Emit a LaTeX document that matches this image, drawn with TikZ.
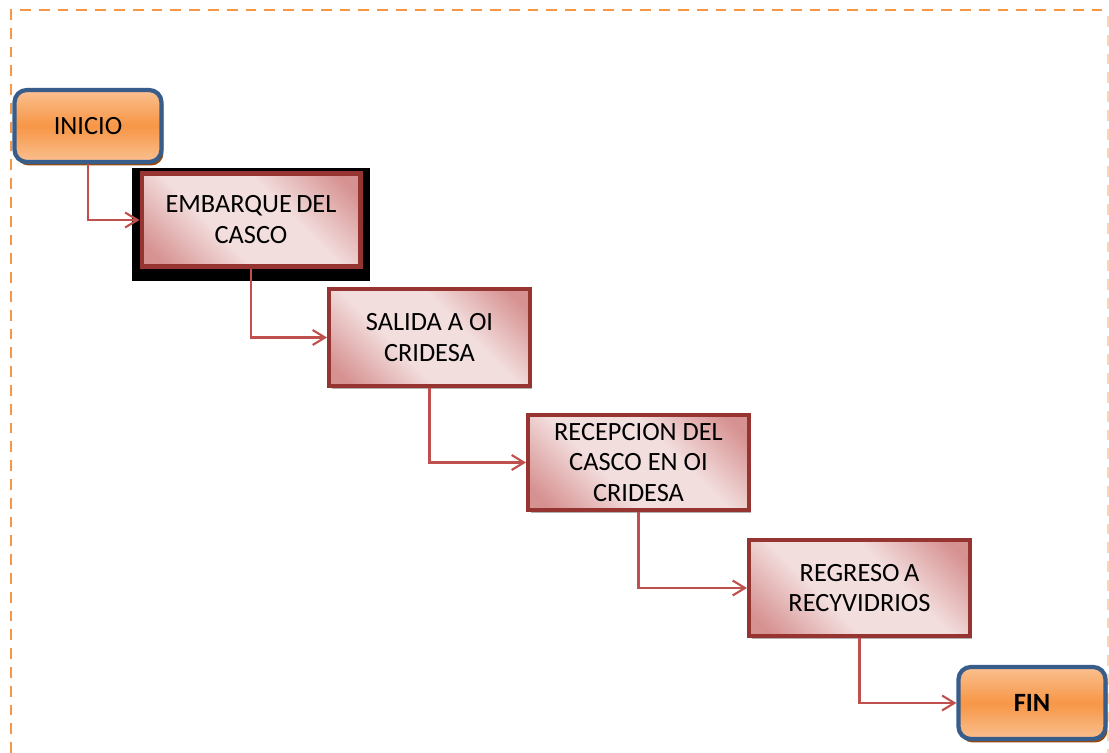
\documentclass[tikz,border=0pt]{standalone}
\usepackage{fontspec}
\setmainfont{Carlito}
\usetikzlibrary{arrows.meta}
\usetikzlibrary{shadows}
\definecolor{bordeorange}{RGB}{247,150,70}
\definecolor{naranja}{RGB}{247,150,70}
\definecolor{naranjaclaro}{RGB}{250,192,144}
\definecolor{azulborde}{RGB}{56,93,138}
\definecolor{sombracafe}{RGB}{152,72,6}
\definecolor{rojoborde}{RGB}{150,52,50}
\definecolor{rosaoscuro}{RGB}{214,146,145}
\definecolor{rosaclaro}{RGB}{243,222,222}
\definecolor{flecha}{RGB}{192,80,77}
\pgfdeclareverticalshading{rosado}{100bp}{color(0bp)=(rosaoscuro); color(20bp)=(rosaoscuro);
    color(40bp)=(rosaclaro); color(60bp)=(rosaclaro); color(80bp)=(rosaoscuro); color(100bp)=(rosaoscuro)}
\begin{document}
\begin{tikzpicture}[x=0.02cm,y=-0.02cm,
    >={Straight Barb[length=7pt,width=8.5pt,line width=1.2pt]},
    terminal/.style={draw=azulborde,line width=2.4pt,rounded corners=7pt,
        top color=naranjaclaro,bottom color=naranjaclaro,middle color=naranja,
        minimum width=2.94cm,minimum height=1.44cm,inner sep=0pt,
        font=\fontsize{15}{18}\selectfont,
        general shadow={fill=sombracafe,shadow xshift=0.04cm,shadow yshift=-0.07cm}},
    proceso/.style={draw=rojoborde,line width=2.3pt,
        shading=rosado,shading angle=-45,
        minimum width=4.34cm,minimum height=1.86cm,inner sep=0pt,align=center,
        font=\fontsize{15}{17.6}\selectfont},
    paso/.style={proceso,general shadow={fill=black!30,shadow xshift=0.05cm,shadow yshift=-0.06cm}},
    enlace/.style={draw=flecha,line width=1.2pt,->}]
    \useasboundingbox (0,0) rectangle (1109,753);
    % marco punteado
    \draw[bordeorange,line width=1.7pt,dash pattern=on 6.2pt off 4.5pt]
        (11,753) -- (11,10) -- (1108,10);
    \draw[bordeorange!40,line width=1.7pt,dash pattern=on 6.2pt off 4.5pt]
        (1108,16) -- (1108,753);
    % sombra negra del primer paso
    \fill[black] (132,168) rectangle (370,281);
    % nodos
    \node[terminal] (inicio) at (88,126) {INICIO};
    \node[proceso,minimum width=4.38cm,minimum height=1.86cm] (embarque) at (251,220) {EMBARQUE\,DEL\\CASCO};
    \node[paso,minimum width=4.02cm,minimum height=1.94cm] (salida) at (429.5,337.5) {SALIDA A OI\\CRIDESA};
    \node[paso,minimum width=4.42cm,minimum height=1.90cm] (recepcion) at (638.5,462.5) {RECEPCION DEL\\CASCO EN OI\\CRIDESA};
    \node[paso,minimum width=4.42cm,minimum height=1.92cm] (regreso) at (859.5,588) {REGRESO\,A\\RECYVIDRIOS};
    \node[terminal,font=\fontsize{15}{18}\selectfont\bfseries] (fin) at (1032,703) {FIN};
    % flechas
    \draw[enlace] (inicio.south) |- (embarque.west);
    \draw[enlace] (embarque.south) |- (salida.west);
    \draw[enlace] (salida.south) |- (recepcion.west);
    \draw[enlace] (recepcion.south) |- (regreso.west);
    \draw[enlace] (regreso.south) |- (fin.west);
\end{tikzpicture}
\end{document}
